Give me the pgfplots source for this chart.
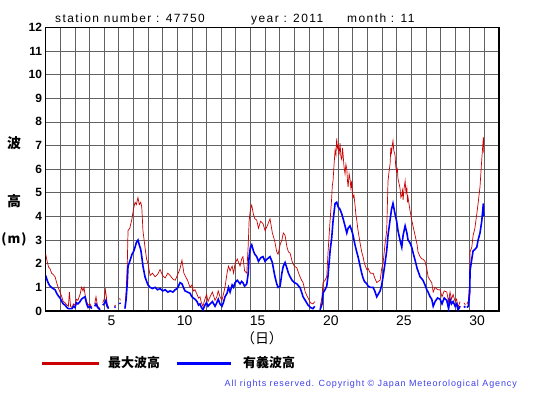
\documentclass[border=0pt]{standalone}
\usepackage{pgfplots}
\pgfplotsset{compat=1.18}
\usepackage{fontspec}
\setmainfont{Liberation Sans}
\newfontfamily\cjk{Noto Sans CJK JP}
\definecolor{maxred}{RGB}{204,0,0}
\definecolor{sigblue}{RGB}{0,0,255}
\definecolor{copyblue}{RGB}{64,64,235}
\begin{document}
\begin{tikzpicture}[x=1bp,y=1bp]
\path[use as bounding box] (0,0) rectangle (555,395);
\begin{axis}[
  at={(45.7bp,84bp)}, anchor=south west,
  width=453.3bp, height=283.7bp, scale only axis,
  xmin=1, xmax=32, ymin=0, ymax=12,
  xtick={5.5,10.5,15.5,20.5,25.5,30.5},
  xticklabels={5,10,15,20,25,30},
  minor xtick={2,3,...,31},
  ytick={0,1,...,12},
  xminorgrids=true, xmajorgrids=false, ymajorgrids=true,
  major tick length=0pt, minor tick length=0pt,
  grid style={black!62, line width=0.7bp},
  minor grid style={black!62, line width=0.7bp},
  axis line style={line width=1.3bp},
  /pgf/number format/assume math mode=true,
  yticklabel style={font=\fontsize{12}{12}\selectfont\bfseries, anchor=east, inner sep=0pt, xshift=-3.5bp},
  xticklabel style={font=\fontsize{14}{14}\selectfont, anchor=north, inner sep=0pt, yshift=-4.5bp},
  unbounded coords=jump,
  clip=true,
]
\addplot[color=maxred, line width=0.7bp] table[row sep=\\] {
x y\\
1.00 2.40\\ 1.10 2.10\\ 1.20 1.85\\ 1.29 1.80\\ 1.40 1.60\\ 1.50 1.55\\ 1.64 1.45\\ 1.75 1.20\\ 1.85 1.00\\ 1.98 0.80\\
2.10 0.60\\ 2.20 0.40\\ 2.32 0.35\\ 2.45 0.25\\ 2.55 0.20\\ 2.62 0.80\\ 2.70 0.20\\ 2.80 0.15\\ 2.90 0.30\\ 3.00 0.25\\
3.10 0.50\\ 3.20 0.45\\ 3.35 0.70\\ 3.45 1.00\\ 3.55 0.85\\ 3.62 1.00\\ 3.69 0.70\\ 3.80 0.40\\ 3.90 0.25\\ 4.03 0.30\\
4.15 0.15\\ 4.25 nan\\ 4.35 0.30\\ 4.44 0.60\\ 4.55 0.20\\ 4.71 0.10\\ 4.80 nan\\ 4.90 0.35\\ 5.00 0.50\\ 5.08 0.90\\
5.15 0.60\\ 5.20 0.30\\ 5.30 0.15\\ 5.50 nan\\ 5.70 0.20\\ 5.78 0.25\\ 5.90 nan\\ 6.06 0.55\\ 6.10 0.45\\ 6.25 nan\\
6.42 0.15\\ 6.50 0.80\\ 6.58 2.00\\ 6.63 3.40\\ 6.75 3.50\\ 6.90 3.90\\ 7.00 4.30\\ 7.11 4.60\\ 7.20 4.50\\ 7.31 4.80\\
7.40 4.50\\ 7.50 4.60\\ 7.57 4.40\\ 7.65 3.40\\ 7.79 2.70\\ 7.90 2.20\\ 8.00 2.00\\ 8.14 1.50\\ 8.30 1.60\\ 8.48 1.45\\
8.65 1.55\\ 8.82 1.75\\ 9.00 1.50\\ 9.17 1.40\\ 9.35 1.60\\ 9.51 1.50\\ 9.70 1.35\\ 9.85 1.30\\ 10.00 1.50\\ 10.19 1.80\\
10.32 2.15\\ 10.45 1.60\\ 10.53 1.50\\ 10.70 1.30\\ 10.87 1.00\\ 11.00 1.10\\ 11.10 0.85\\ 11.21 0.90\\ 11.35 0.70\\ 11.45 0.55\\
11.55 0.60\\ 11.65 0.35\\ 11.75 0.20\\ 11.89 0.50\\ 12.00 0.70\\ 12.10 0.40\\ 12.24 0.60\\ 12.40 0.80\\ 12.58 0.45\\ 12.70 0.60\\
12.80 0.85\\ 12.92 0.60\\ 13.05 0.45\\ 13.15 0.70\\ 13.26 1.00\\ 13.40 1.60\\ 13.50 1.90\\ 13.61 1.70\\ 13.75 1.90\\ 13.85 1.60\\
13.95 2.00\\ 14.10 2.20\\ 14.29 1.90\\ 14.40 2.20\\ 14.49 2.30\\ 14.60 1.70\\ 14.75 1.60\\ 14.85 2.80\\ 14.91 3.80\\ 15.00 4.30\\
15.09 4.48\\ 15.20 4.10\\ 15.30 3.90\\ 15.43 3.85\\ 15.55 3.50\\ 15.70 3.80\\ 15.86 3.70\\ 16.00 3.40\\ 16.15 3.60\\ 16.34 3.90\\
16.50 3.30\\ 16.60 3.10\\ 16.68 2.90\\ 16.80 2.50\\ 16.89 2.40\\ 17.03 2.80\\ 17.15 3.00\\ 17.25 3.30\\ 17.37 3.20\\ 17.50 2.70\\
17.60 2.50\\ 17.71 2.45\\ 17.85 2.10\\ 18.00 1.90\\ 18.17 1.83\\ 18.30 1.60\\ 18.39 1.45\\ 18.50 1.30\\ 18.60 1.20\\ 18.75 0.80\\
18.94 0.55\\ 19.10 0.35\\ 19.28 0.30\\ 19.40 0.40\\ 19.55 nan\\ 19.76 0.15\\ 19.90 0.60\\ 19.96 1.20\\ 20.10 1.30\\ 20.22 1.45\\
20.31 2.50\\ 20.45 3.85\\ 20.56 4.80\\ 20.60 5.30\\ 20.65 5.50\\ 20.72 6.20\\ 20.79 6.80\\ 20.85 6.60\\ 20.90 7.30\\ 20.95 6.90\\
21.00 7.00\\ 21.06 6.60\\ 21.13 7.10\\ 21.19 6.50\\ 21.25 6.40\\ 21.30 6.90\\ 21.34 6.60\\ 21.40 6.10\\ 21.47 5.80\\ 21.53 6.20\\
21.59 6.00\\ 21.64 5.50\\ 21.68 5.25\\ 21.75 5.80\\ 21.81 5.60\\ 21.87 5.20\\ 21.93 5.50\\ 21.97 5.00\\ 22.02 4.80\\ 22.08 4.90\\
22.15 4.50\\ 22.21 4.10\\ 22.27 3.85\\ 22.36 3.40\\ 22.50 2.87\\
22.61 2.50\\ 22.70 2.30\\ 22.80 2.00\\ 22.96 1.75\\ 23.05 1.80\\ 23.20 1.60\\ 23.39 1.60\\ 23.50 1.40\\ 23.64 1.20\\ 23.73 1.25\\
23.87 1.30\\ 23.98 1.80\\ 24.07 2.00\\ 24.20 2.80\\ 24.32 3.40\\ 24.41 5.50\\ 24.48 5.90\\ 24.55 6.20\\ 24.60 6.90\\ 24.65 6.70\\
24.70 7.00\\ 24.75 7.20\\ 24.80 6.80\\ 24.89 6.60\\ 24.94 6.10\\ 25.00 5.90\\ 25.05 6.00\\ 25.09 5.60\\ 25.16 5.40\\ 25.23 5.20\\
25.29 4.80\\ 25.35 4.90\\ 25.40 5.10\\ 25.44 4.70\\ 25.51 5.20\\ 25.58 5.50\\ 25.64 5.00\\ 25.70 5.20\\ 25.74 4.60\\ 25.78 4.80\\
25.90 4.30\\ 26.03 3.85\\
26.15 3.50\\ 26.26 3.20\\ 26.40 2.80\\ 26.46 2.50\\ 26.60 2.30\\ 26.72 2.20\\ 26.80 2.20\\ 26.94 2.10\\ 27.06 1.80\\ 27.15 1.45\\
27.29 1.30\\ 27.40 1.20\\ 27.50 0.80\\ 27.63 1.00\\ 27.80 0.90\\ 27.97 0.90\\ 28.10 0.60\\ 28.25 0.85\\ 28.43 0.80\\ 28.55 0.40\\
28.65 0.80\\ 28.75 0.50\\ 28.86 0.70\\ 29.00 0.40\\ 29.10 0.50\\ 29.20 0.15\\ 29.34 0.40\\ 29.45 nan\\ 29.60 0.35\\ 29.70 0.25\\
29.75 nan\\ 29.80 0.30\\ 29.90 0.40\\ 30.00 1.30\\ 30.02 2.50\\ 30.14 2.70\\ 30.23 3.20\\ 30.35 3.50\\ 30.48 4.10\\ 30.57 4.55\\
30.70 5.25\\ 30.82 6.40\\ 30.93 7.35\\ 30.96 6.70\\
};
\addplot[color=sigblue, line width=1.6bp] table[row sep=\\] {
x y\\
1.00 1.50\\ 1.10 1.30\\ 1.20 1.15\\ 1.30 1.05\\ 1.40 1.00\\ 1.50 0.95\\ 1.64 0.90\\ 1.75 0.75\\ 1.85 0.65\\ 1.98 0.55\\
2.10 0.40\\ 2.20 0.30\\ 2.32 0.25\\ 2.45 0.15\\ 2.55 0.10\\ 2.66 0.10\\ 2.80 0.10\\ 2.90 0.20\\ 3.00 0.15\\ 3.10 0.35\\
3.20 0.30\\ 3.35 0.40\\ 3.45 0.50\\ 3.55 0.55\\ 3.69 0.60\\ 3.80 0.30\\ 3.90 0.15\\ 4.03 0.20\\ 4.15 0.10\\ 4.25 nan\\
4.35 0.20\\ 4.44 0.30\\ 4.55 0.15\\ 4.71 0.05\\ 4.80 nan\\ 4.90 0.25\\ 5.00 0.30\\ 5.12 0.45\\ 5.20 0.20\\ 5.30 0.10\\
5.50 nan\\ 5.70 0.15\\ 5.78 0.18\\ 5.90 nan\\ 6.06 0.35\\ 6.10 0.30\\ 6.25 nan\\ 6.42 0.10\\ 6.50 0.50\\ 6.58 1.20\\
6.63 1.90\\ 6.75 2.10\\ 6.90 2.40\\ 7.00 2.50\\ 7.11 2.70\\ 7.20 2.90\\ 7.31 3.00\\ 7.40 2.80\\ 7.50 2.60\\ 7.57 2.30\\
7.65 1.90\\ 7.79 1.45\\ 7.90 1.25\\ 8.00 1.10\\ 8.14 1.00\\ 8.30 0.95\\ 8.48 1.00\\ 8.65 0.90\\ 8.82 0.95\\ 9.00 0.85\\
9.17 0.90\\ 9.35 0.80\\ 9.51 0.85\\ 9.70 0.80\\ 9.85 0.90\\ 10.00 0.95\\ 10.19 1.20\\ 10.32 1.15\\ 10.45 0.95\\ 10.53 0.85\\
10.70 0.80\\ 10.87 0.75\\ 11.00 0.60\\ 11.10 0.55\\ 11.21 0.50\\ 11.35 0.40\\ 11.45 0.25\\ 11.55 0.30\\ 11.65 0.15\\ 11.75 0.05\\
11.89 0.25\\ 12.00 0.35\\ 12.10 0.20\\ 12.24 0.30\\ 12.40 0.40\\ 12.58 0.20\\ 12.70 0.35\\ 12.80 0.50\\ 12.92 0.30\\ 13.05 0.20\\
13.15 0.35\\ 13.26 0.60\\ 13.40 0.75\\ 13.50 1.00\\ 13.61 0.80\\ 13.75 1.10\\ 13.85 1.00\\ 13.95 1.20\\ 14.10 1.30\\ 14.29 1.15\\
14.40 1.25\\ 14.49 1.20\\ 14.60 1.05\\ 14.75 1.15\\ 14.85 1.60\\ 14.91 2.30\\ 15.00 2.70\\ 15.09 2.80\\ 15.20 2.55\\ 15.30 2.40\\
15.43 2.30\\ 15.55 2.10\\ 15.70 2.25\\ 15.86 2.30\\ 16.00 2.10\\ 16.15 2.20\\ 16.34 2.30\\ 16.50 2.05\\ 16.60 1.70\\ 16.68 1.45\\
16.80 1.15\\ 16.89 1.00\\ 17.03 1.05\\ 17.15 1.60\\ 17.25 1.90\\ 17.37 2.05\\ 17.50 1.80\\ 17.60 1.60\\ 17.71 1.45\\ 17.85 1.30\\
18.00 1.20\\ 18.17 1.15\\ 18.30 1.05\\ 18.39 1.00\\ 18.50 0.80\\ 18.60 0.60\\ 18.75 0.45\\ 18.94 0.25\\ 19.10 0.15\\ 19.28 0.10\\
19.40 0.20\\ 19.55 nan\\ 19.76 0.05\\ 19.90 0.30\\ 19.96 0.75\\ 20.10 0.90\\ 20.22 1.05\\ 20.31 1.50\\ 20.45 2.55\\ 20.56 3.10\\
20.65 3.80\\ 20.79 4.55\\ 20.90 4.60\\ 21.00 4.40\\ 21.13 4.30\\ 21.25 4.10\\ 21.34 3.90\\ 21.47 3.60\\ 21.59 3.30\\ 21.68 3.50\\
21.81 3.60\\ 21.93 3.40\\ 22.02 3.20\\ 22.15 2.80\\ 22.27 2.50\\ 22.36 2.30\\ 22.50 1.90\\ 22.61 1.60\\ 22.70 1.40\\ 22.80 1.25\\
22.96 1.15\\ 23.05 1.05\\ 23.20 1.00\\ 23.39 1.00\\ 23.50 0.85\\ 23.64 0.60\\ 23.73 0.70\\ 23.87 0.85\\ 23.98 1.10\\ 24.07 1.45\\
24.20 2.00\\ 24.32 2.55\\ 24.41 3.20\\ 24.55 3.85\\ 24.65 4.30\\ 24.75 4.55\\ 24.89 4.10\\ 25.00 3.80\\ 25.09 3.40\\ 25.23 3.00\\
25.35 2.70\\ 25.44 3.20\\ 25.58 3.60\\ 25.70 3.30\\ 25.78 3.00\\ 25.90 2.90\\ 26.03 2.70\\ 26.15 2.40\\ 26.26 2.15\\ 26.40 1.80\\
26.60 1.45\\ 26.80 1.30\\ 26.94 1.10\\ 27.06 0.90\\ 27.15 0.80\\ 27.29 0.60\\ 27.40 0.50\\ 27.50 0.20\\ 27.63 0.40\\ 27.80 0.55\\
27.97 0.50\\ 28.10 0.30\\ 28.25 0.55\\ 28.43 0.45\\ 28.55 0.10\\ 28.65 0.50\\ 28.75 0.30\\ 28.86 0.40\\ 29.00 0.20\\ 29.10 0.30\\
29.20 0.05\\ 29.34 0.20\\ 29.45 nan\\ 29.60 0.20\\ 29.70 0.15\\ 29.75 nan\\ 29.80 0.15\\ 29.90 0.20\\ 30.00 0.80\\ 30.02 1.70\\
30.14 2.20\\ 30.23 2.55\\ 30.35 2.60\\ 30.48 2.70\\ 30.57 3.00\\ 30.70 3.30\\ 30.82 3.80\\ 30.93 4.55\\ 30.96 4.00\\
};
\end{axis}
% title
\node[anchor=base west, inner sep=0pt] at (55,373) {\fontsize{12}{12}\selectfont\addfontfeature{LetterSpace=12}station number : 47750};
\node[anchor=base west, inner sep=0pt] at (251,373) {\fontsize{12}{12}\selectfont\addfontfeature{LetterSpace=12}year : 2011};
\node[anchor=base west, inner sep=0pt] at (347,373) {\fontsize{12}{12}\selectfont\addfontfeature{LetterSpace=12}month : 11};
% y label
\node[inner sep=0pt] at (14,252) {\cjk\bfseries\fontsize{14}{14}\selectfont 波};
\node[inner sep=0pt] at (14,194) {\cjk\bfseries\fontsize{14}{14}\selectfont 高};
\node[inner sep=0pt] at (14,156) {\cjk\bfseries\fontsize{13}{13}\selectfont (\kern1bp m\kern1bp)};
% x label
\node[inner sep=0pt] at (262,57) {\cjk\fontsize{14}{14}\selectfont （日）};
% legend
\draw[maxred, line width=3bp] (42,32) -- (99,32);
\node[anchor=west, inner sep=0pt] at (108,32) {\cjk\bfseries\fontsize{13}{13}\selectfont 最大波高};
\draw[sigblue, line width=3bp] (177,32) -- (231,32);
\node[anchor=west, inner sep=0pt] at (243,32) {\cjk\bfseries\fontsize{13}{13}\selectfont 有義波高};
% copyright
\node[anchor=east, inner sep=0pt, text=copyblue] at (517,11) {\fontsize{9}{9}\selectfont\addfontfeature{LetterSpace=10}All rights reserved. Copyright \textcopyright\ Japan Meteorological Agency};
\end{tikzpicture}
\end{document}
